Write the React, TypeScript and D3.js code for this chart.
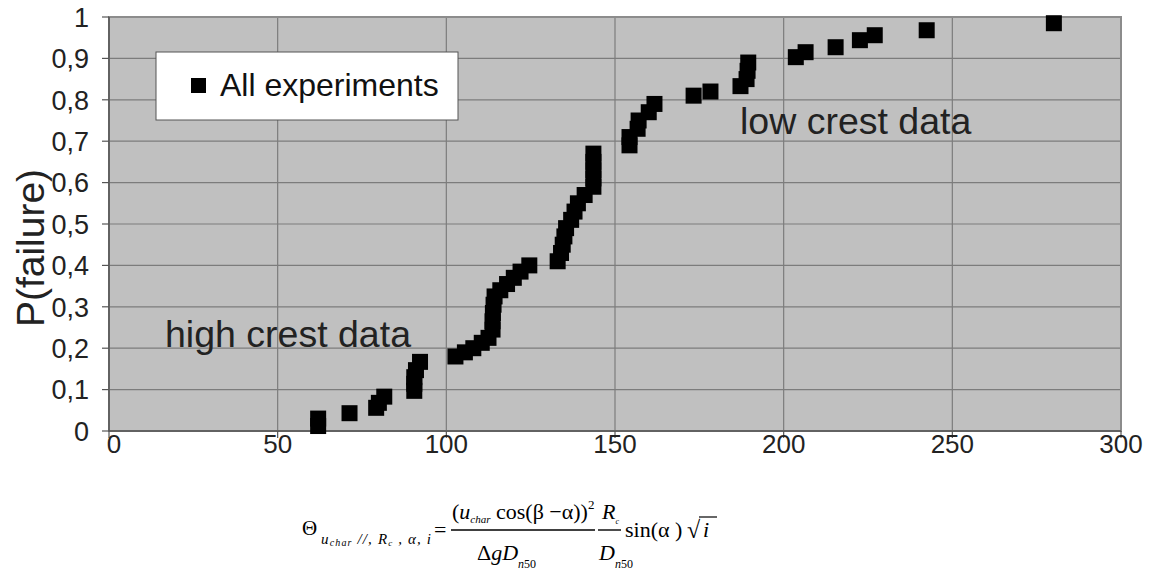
import React from "react";
import * as d3 from "d3";

// readings of the cumulative failure curve
const thetaValues = [
  62, 62, 71.3, 79.2, 80, 81.6, 90.5, 90.5, 90.5, 91, 92.2,
  102.7, 105.5, 108, 110.5, 112.5, 113.7, 113.7, 113.8, 114, 114.3,
  116, 118, 120, 122, 124.6,
  133, 134, 134.5, 135, 135.5, 137, 138, 139, 141,
  143.6, 143.6, 143.6, 143.6, 143.6,
  154.3, 154.3, 156.7, 157, 160, 161.7,
  173.3, 178.3, 187.2, 189, 189.3, 189.5,
  203.6, 206.5, 215.4, 222.6, 227, 242.4, 280.1,
];
const pFailure = [
  0.012, 0.03, 0.043, 0.056, 0.068, 0.083, 0.097, 0.114, 0.13, 0.147, 0.167,
  0.18, 0.19, 0.2, 0.213, 0.225, 0.245, 0.265, 0.285, 0.305, 0.325,
  0.34, 0.355, 0.37, 0.385, 0.4,
  0.41, 0.43, 0.45, 0.47, 0.49, 0.51, 0.53, 0.55, 0.57,
  0.59, 0.61, 0.63, 0.65, 0.67,
  0.69, 0.71, 0.73, 0.75, 0.77, 0.79,
  0.81, 0.82, 0.833, 0.85, 0.87, 0.89,
  0.903, 0.915, 0.927, 0.944, 0.956, 0.968, 0.985,
];
const xTicks = [0, 50, 100, 150, 200, 250, 300];
const yTicks = [0, 0.1, 0.2, 0.3, 0.4, 0.5, 0.6, 0.7, 0.8, 0.9, 1];

const W = 1149;
const H = 576;
const left = 109;
const right = 1121;
const top = 17;
const bottom = 431;

export default function App() {
  const x = d3.scaleLinear().domain([0, 300]).range([left, right]);
  const y = d3.scaleLinear().domain([0, 1]).range([bottom, top]);
  const fmt = (v: number) => (v === 0 || v === 1 ? String(v) : d3.format(".1f")(v).replace(".", ","));
  const sans = "'Liberation Sans', Arial, sans-serif";
  const serif = "'Liberation Serif', 'Times New Roman', serif";
  const size = 16;

  return (
    <svg width={W} height={H} style={{ position: "absolute", left: 0, top: 0, background: "#fff" }}>
      <rect x={left} y={top} width={right - left} height={bottom - top} fill="#c0c0c0" />
      {xTicks.slice(1, -1).map((t) => (
        <line key={"gx" + t} x1={x(t)} x2={x(t)} y1={top} y2={bottom} stroke="#7c7c7c" strokeWidth={1.2} />
      ))}
      {yTicks.slice(1, -1).map((t) => (
        <line key={"gy" + t} x1={left} x2={right} y1={y(t)} y2={y(t)} stroke="#7c7c7c" strokeWidth={1.2} />
      ))}
      <rect x={left} y={top} width={right - left} height={bottom - top} fill="none" stroke="#8c8c8c" strokeWidth={2} />
      <line x1={left} x2={left} y1={top} y2={bottom} stroke="#555" strokeWidth={1.5} />
      <line x1={left} x2={right} y1={bottom} y2={bottom} stroke="#555" strokeWidth={1.5} />

      {yTicks.map((t) => (
        <g key={"ty" + t}>
          <line x1={left - 7} x2={left} y1={y(t)} y2={y(t)} stroke="#555" strokeWidth={1.2} />
          <text x={left - 20} y={y(t)} dy="0.36em" textAnchor="end" fontFamily={sans} fontSize={27} fill="#222">
            {fmt(t)}
          </text>
        </g>
      ))}
      {xTicks.map((t) => (
        <g key={"tx" + t}>
          <line x1={x(t)} x2={x(t)} y1={bottom} y2={bottom + 7} stroke="#555" strokeWidth={1.2} />
          <text x={x(t) + (t === 0 ? 5 : 0)} y={bottom + 22} textAnchor="middle" fontFamily={sans} fontSize={26} fill="#222">
            {t}
          </text>
        </g>
      ))}

      <text
        transform={`translate(44,248) rotate(-90)`}
        textAnchor="middle"
        fontFamily={sans}
        fontSize={39}
        fill="#222"
      >
        P(failure)
      </text>

      {thetaValues.map((v, i) => (
        <rect key={i} x={x(v) - size / 2} y={y(pFailure[i]) - size / 2} width={size} height={size} fill="#000" />
      ))}

      <rect x={156} y={52} width={302} height={68} fill="#fff" stroke="#555" strokeWidth={1} />
      <rect x={191} y={78} width={15} height={15} fill="#000" />
      <text x={220} y={96} fontFamily={sans} fontSize={32} fill="#111">All experiments</text>

      <text x={165} y={347} fontFamily={sans} fontSize={37.5} fill="#222">high crest data</text>
      <text x={740} y={134} fontFamily={sans} fontSize={37.5} fill="#222">low crest data</text>

      {/* formula under the axis */}
      <g fontFamily={serif} fill="#000">
        <text x={302} y={535} fontSize={21}>Θ</text>
        <text x={321} y={544} fontSize={15} fontStyle="italic" textLength={110} lengthAdjust="spacing">
          u<tspan fontSize={10} dy={2}>char</tspan><tspan dy={-2}> //, R</tspan><tspan fontSize={9} dy={2}>c</tspan><tspan dy={-2}> , α, i</tspan>
        </text>
        <text x={434} y={537} fontSize={22}>=</text>
        <line x1={451} x2={595} y1={530} y2={530} stroke="#000" strokeWidth={1.4} />
        <text x={452} y={519} fontSize={22}>
          (<tspan fontStyle="italic">u</tspan><tspan fontSize={11} fontStyle="italic" dy={4}>char</tspan><tspan dy={-4}> cos(β −α))</tspan><tspan fontSize={13} dy={-10}>2</tspan>
        </text>
        <text x={477} y={560} fontSize={22}>
          Δ<tspan fontStyle="italic">gD</tspan><tspan fontSize={12} fontStyle="italic" dy={8}>n</tspan><tspan fontSize={12}>50</tspan>
        </text>
        <line x1={598} x2={621} y1={530} y2={530} stroke="#000" strokeWidth={1.4} />
        <text x={602} y={519} fontSize={22} fontStyle="italic">
          R<tspan fontSize={8} dy={5}>c</tspan>
        </text>
        <text x={599} y={560} fontSize={22}>
          <tspan fontStyle="italic">D</tspan><tspan fontSize={12} fontStyle="italic" dy={8}>n</tspan><tspan fontSize={12}>50</tspan>
        </text>
        <text x={625} y={537} fontSize={22}>sin(α )</text>
        <text x={687} y={538} fontSize={24}>√</text>
        <line x1={699} x2={717} y1={517} y2={517} stroke="#000" strokeWidth={1.2} />
        <text x={703} y={537} fontSize={22} fontStyle="italic">i</text>
      </g>
    </svg>
  );
}
